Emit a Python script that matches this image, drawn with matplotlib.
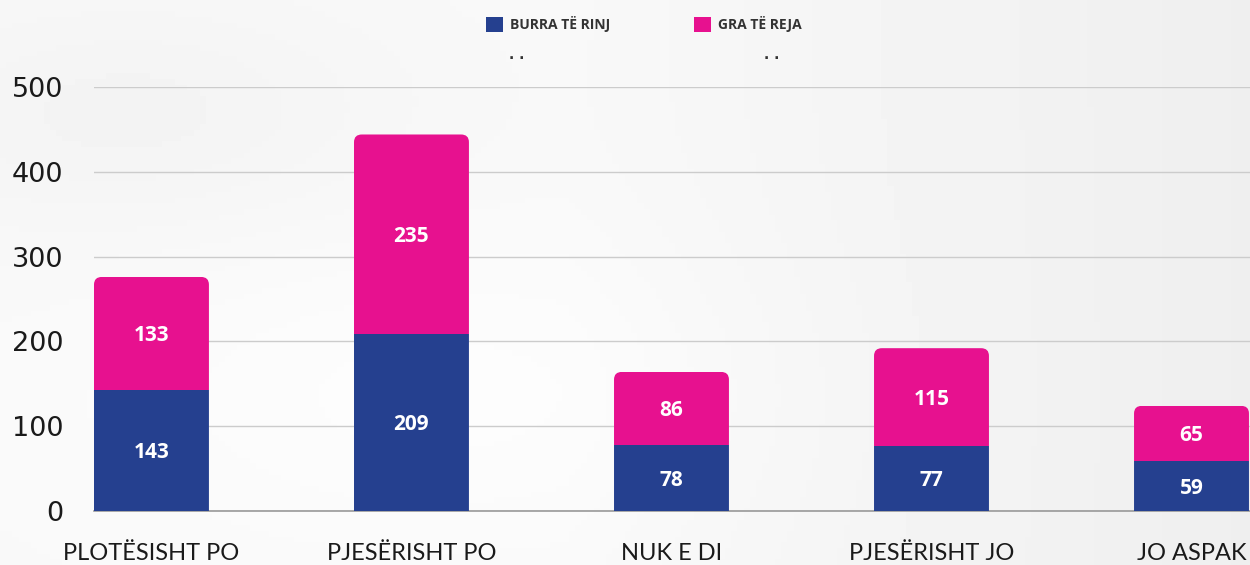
import matplotlib

matplotlib.use("Agg")

import matplotlib.pyplot as plt
import numpy as np
from matplotlib.patches import FancyBboxPatch, Patch


categories = ["PLOTËSISHT PO", "PJESËRISHT PO", "NUK E DI", "PJESËRISHT JO", "JO ASPAK"]
burra = [143, 209, 78, 77, 59]
gra = [133, 235, 86, 115, 65]
series_names = ["BURRA TË RINJ", "GRA TË REJA"]
yticks = [0, 100, 200, 300, 400, 500]

BLUE = "#25408f"
PINK = "#e7118f"
BAR_WIDTH = 0.442

fig = plt.figure(figsize=(12.5, 5.65), dpi=100)

# soft photo-like background
bg = fig.add_axes([0, 0, 1, 1], zorder=-10)
gx = np.linspace(0, 1, 200)
gy = np.linspace(0, 1, 100)
X, Y = np.meshgrid(gx, gy)
shade = 0.975 - 0.07 * np.clip(X - 0.45, 0, None) - 0.02 * np.exp(-((X - 0.1) ** 2 + (Y - 0.2) ** 2) / 0.05)
shade = shade + 0.015 * np.exp(-((X - 0.35) ** 2 + (Y - 0.7) ** 2) / 0.08)
bg.imshow(np.clip(shade, 0, 1), cmap="gray", vmin=0, vmax=1, aspect="auto", extent=[0, 1, 0, 1])
bg.set_axis_off()

ax = fig.add_axes([94 / 1250, 1 - 511 / 565, 1 - 94 / 1250, 424 / 565])
ax.patch.set_alpha(0)

x = np.arange(len(categories))
bars_b = ax.bar(x, burra, BAR_WIDTH, color=BLUE, zorder=3)
bars_g = ax.bar(x, gra, BAR_WIDTH, bottom=burra, color=PINK, zorder=3)

# rounded top corners via clip path
for rb, rg, b, g in zip(bars_b, bars_g, burra, gra):
    total = b + g
    clip = FancyBboxPatch(
        (rb.get_x(), -total), rb.get_width(), 2 * total,
        boxstyle="round,pad=0,rounding_size=0.03",
        mutation_aspect=300, transform=ax.transData,
        facecolor="none", edgecolor="none",
    )
    ax.add_patch(clip)
    rb.set_clip_path(clip)
    rg.set_clip_path(clip)

for xi, b, g in zip(x, burra, gra):
    ax.text(xi, b / 2, str(b), ha="center", va="center_baseline", color="white",
            fontsize=15, fontweight="bold", family="Open Sans", zorder=4)
    ax.text(xi, b + g / 2, str(g), ha="center", va="center_baseline", color="white",
            fontsize=15, fontweight="bold", family="Open Sans", zorder=4)

ax.set_xlim(-0.221, 4.225)
ax.set_ylim(0, 500)
ax.set_yticks(yticks)
ax.set_yticklabels([str(v) for v in yticks], fontsize=19.5, family="DejaVu Sans", color="#1a1a1a")
ax.set_xticks(x)
ax.set_xticklabels(categories, fontsize=17, family="Lato", color="#1a1a1a")
ax.tick_params(axis="y", length=0, pad=22)
ax.tick_params(axis="x", length=0, pad=23)
ax.grid(axis="y", color="#cccccc", linewidth=1, zorder=0)
for side in ["top", "right", "left"]:
    ax.spines[side].set_visible(False)
ax.spines["bottom"].set_color("#999999")
ax.spines["bottom"].set_linewidth(1.2)

handles = [Patch(facecolor=BLUE), Patch(facecolor=PINK)]
fig.legend(
    handles, series_names, loc="center", bbox_to_anchor=(0.515, 0.957), ncol=2,
    frameon=False, handlelength=1.22, handleheight=1.22, handletextpad=0.5,
    columnspacing=6, prop={"family": "Open Sans", "weight": "bold", "size": 10},
    labelcolor="#333333",
)
for tx in [0.413, 0.617]:
    fig.text(tx, 0.902, ". .", fontsize=10, fontweight="bold", color="#333333", ha="center", va="center")

fig.savefig("out.png", dpi=100)
